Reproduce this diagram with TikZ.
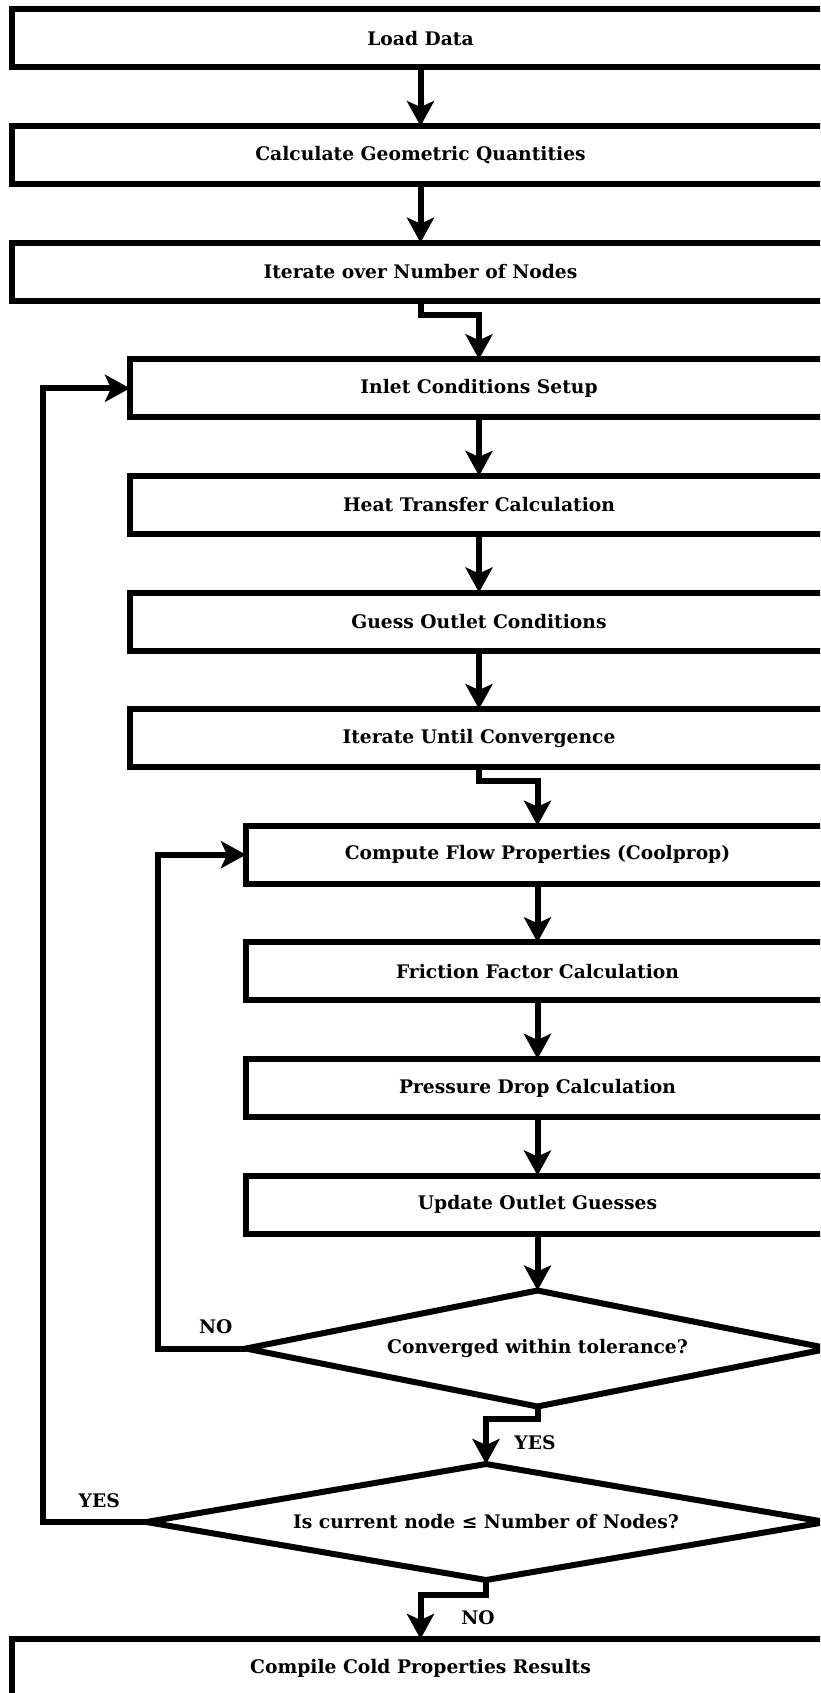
\documentclass[tikz,border=0pt]{standalone}
\usepackage{fontspec}
\setmainfont{DejaVu Serif}
\usepackage{tikz}
\usetikzlibrary{shapes.geometric,arrows.meta}

\begin{document}
\begin{tikzpicture}[x=1pt,y=-1pt,line width=6pt]
  \tikzstyle{every node}=[font=\fontsize{18.7}{22}\selectfont\bfseries]
  \tikzstyle{procbox}=[draw, rectangle, minimum height=58pt, outer sep=0pt]
  \tikzstyle{decision}=[draw, diamond, shape aspect=5, minimum height=116pt, outer sep=0pt]
  \tikzstyle{arr}=[-{Stealth[length=25pt,width=27pt,inset=6pt]}]
  \useasboundingbox (0,0) rectangle (820,1693);
  \fill[white] (0,0) rectangle (820,1693);
  \clip (0,0) rectangle (820,1693);
  % outer level
  \node[procbox, minimum width=817pt] (load) at (420.5,38.5) {Load Data};
  \node[procbox, minimum width=817pt] (geom) at (420.5,155.1) {Calculate Geometric Quantities};
  \node[procbox, minimum width=817pt] (iternodes) at (420.5,271.7) {Iterate over Number of Nodes};
  % node loop
  \node[procbox, minimum width=698pt] (inlet) at (479,388.3) {Inlet Conditions Setup};
  \node[procbox, minimum width=698pt] (heat) at (479,504.9) {Heat Transfer Calculation};
  \node[procbox, minimum width=698pt] (guess) at (479,621.5) {Guess Outlet Conditions};
  \node[procbox, minimum width=698pt] (iterconv) at (479,738.1) {Iterate Until Convergence};
  % convergence loop
  \node[procbox, minimum width=583pt] (flow) at (537.5,854.7) {Compute Flow Properties (Coolprop)};
  \node[procbox, minimum width=583pt] (friction) at (537.5,971.3) {Friction Factor Calculation};
  \node[procbox, minimum width=583pt] (pdrop) at (537.5,1087.9) {Pressure Drop Calculation};
  \node[procbox, minimum width=583pt] (update) at (537.5,1204.5) {Update Outlet Guesses};
  \node[decision, minimum width=583pt] (conv) at (537.5,1348.5) {Converged within tolerance?};
  \node[decision, minimum width=679pt] (nodechk) at (486,1522) {Is current node ≤ Number of Nodes?};
  \node[procbox, minimum width=817pt] (results) at (420.5,1668) {Compile Cold Properties Results};
  % connectors
  \draw[arr] (load.south) -- (geom.north);
  \draw[arr] (geom.south) -- (iternodes.north);
  \draw[arr] (iternodes.south) -- ++(0,14) -| (inlet.north);
  \draw[arr] (inlet.south) -- (heat.north);
  \draw[arr] (heat.south) -- (guess.north);
  \draw[arr] (guess.south) -- (iterconv.north);
  \draw[arr] (iterconv.south) -- ++(0,14) -| (flow.north);
  \draw[arr] (flow.south) -- (friction.north);
  \draw[arr] (friction.south) -- (pdrop.north);
  \draw[arr] (pdrop.south) -- (update.north);
  \draw[arr] (update.south) -- (conv.north);
  \draw[arr] (conv.south) -- ++(0,12) -| (nodechk.north);
  \draw[arr] (nodechk.south) -- ++(0,15) -| (results.north);
  \draw[arr] (conv.west) -- ++(-88,0) |- (flow.west);
  \draw[arr] (nodechk.west) -- ++(-104,0) |- (inlet.west);
  % labels
  \node (convno) at (215.7,1326.7) {NO};
  \node (convyes) at (535,1442.7) {YES};
  \node (nodeyes) at (99.3,1500.7) {YES};
  \node (nodeno) at (478,1617.7) {NO};
\end{tikzpicture}
\end{document}
